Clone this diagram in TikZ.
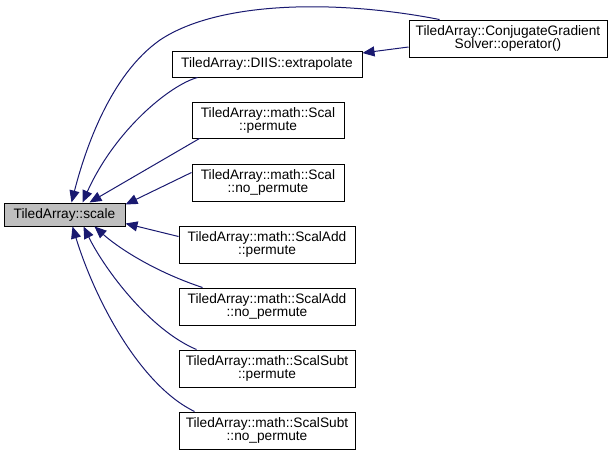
\documentclass[tikz,border=0pt]{standalone}
\usepackage{fontspec}
\setmainfont{Liberation Sans}
\usetikzlibrary{arrows.meta}
\definecolor{edgeblue}{HTML}{191970}
\definecolor{nodegray}{HTML}{BFBFBF}
\tikzset{
  fn/.style={draw=black, fill=white, line width=1pt, inner sep=0pt, align=center,
    font=\fontsize{13.7}{13}\selectfont, text=black},
  edge/.style={draw=edgeblue, line width=1pt, -{Triangle[length=12pt,width=10pt]}}
}
\begin{document}
\begin{tikzpicture}[x=1pt,y=-1pt]
\useasboundingbox (0,0) rectangle (616,458);
\node[fn, fill=nodegray, minimum width=121pt, minimum height=23pt] (scale) at (64.5,214.5) {TiledArray::scale};
\node[fn, minimum width=190pt, minimum height=26pt] (diis) at (267,64) {TiledArray::DIIS::extrapolate};
\node[fn, minimum width=198pt, minimum height=37pt] (cg) at (508,38.5) {TiledArray::ConjugateGradient\\Solver::operator()};
\node[fn, minimum width=152pt, minimum height=36pt] (sp) at (268,120) {TiledArray::math::Scal\\::permute};
\node[fn, minimum width=152pt, minimum height=37pt] (snp) at (268,182.5) {TiledArray::math::Scal\\::no\_permute};
\node[fn, minimum width=176pt, minimum height=37pt] (ap) at (267,244.5) {TiledArray::math::ScalAdd\\::permute};
\node[fn, minimum width=176pt, minimum height=37pt] (anp) at (267,306.5) {TiledArray::math::ScalAdd\\::no\_permute};
\node[fn, minimum width=176pt, minimum height=37pt] (up) at (267,368.5) {TiledArray::math::ScalSubt\\::permute};
\node[fn, minimum width=176pt, minimum height=37pt] (unp) at (267,430.5) {TiledArray::math::ScalSubt\\::no\_permute};

\draw[edge] ([xshift=31pt]cg.north west) .. controls (340,0) and (220,0) .. (160,40)
  .. controls (110,75) and (85,150) .. ([xshift=68pt]scale.north west);
\draw[edge] ([xshift=26pt]diis.south west) .. controls (170,85) and (115,130) .. ([xshift=79pt]scale.north west);
\draw[edge] ([xshift=8pt]sp.south west) -- ([xshift=86pt]scale.north west);
\draw[edge] ([yshift=10pt]snp.west) -- ([yshift=10pt]scale.east);
\draw[edge] ([yshift=8pt]ap.west) -- ([yshift=-9pt]scale.east);
\draw[edge] ([xshift=24pt]anp.north west) .. controls (150,270) and (115,245) .. ([xshift=91pt]scale.south west);
\draw[edge] ([xshift=18pt]up.north west) .. controls (150,330) and (105,270) .. ([xshift=80pt]scale.south west);
\draw[edge] ([xshift=16pt]unp.north west) .. controls (140,385) and (95,300) .. ([xshift=69pt]scale.south west);
\draw[edge] ([yshift=-8.5pt]cg.west) -- ([yshift=11pt]diis.east);
\end{tikzpicture}
\end{document}
